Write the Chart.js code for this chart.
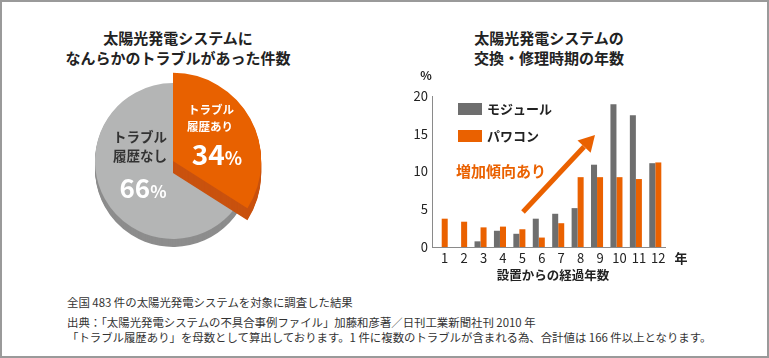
<!DOCTYPE html>
<html><head><meta charset="utf-8">
<script src="https://cdn.jsdelivr.net/npm/chart.js@4.4.0/dist/chart.umd.min.js"></script>
<style>
html,body{margin:0;padding:0;background:#fff;}
#frame{position:relative;width:769px;height:358px;overflow:hidden;font-family:"Noto Sans CJK JP","Noto Sans",sans-serif;color:#222;background:#fff;}
#border{position:absolute;left:0;top:0;width:769px;height:358px;box-sizing:border-box;border:2px solid #9a9a9a;}
.c{position:absolute;white-space:nowrap;line-height:1;transform:translate(-50%,-50%);}
.l{position:absolute;white-space:nowrap;line-height:1;transform:translate(0,-50%);}
.title{font-size:15px;font-weight:bold;color:#222;}
.foot{font-size:11.4px;color:#333;}
canvas{position:absolute;}
</style>
</head><body>
<div id="frame">
<div id="border"></div>
<div class="c title" style="left:178px;top:37px">太陽光発電システムに</div>
<div class="c title" style="left:178px;top:57px">なんらかのトラブルがあった件数</div>
<div class="c title" style="left:549px;top:37px">太陽光発電システムの</div>
<div class="c title" style="left:549px;top:57px">交換・修理時期の年数</div>

<canvas id="pie" width="190" height="200" style="left:80px;top:62px;width:190px;height:200px"></canvas>
<div class="c" style="left:140px;top:137px;font-size:13.5px;font-weight:bold;color:#333">トラブル</div>
<div class="c" style="left:140px;top:156px;font-size:13.5px;font-weight:bold;color:#333">履歴なし</div>
<div class="c" style="left:143px;top:187px;font-size:26px;font-weight:bold;color:#fff">66<span style="font-size:17px">%</span></div>
<div class="c" style="left:211px;top:110px;font-size:11.5px;font-weight:bold;color:#fff">トラブル</div>
<div class="c" style="left:210px;top:127px;font-size:11.5px;font-weight:bold;color:#fff">履歴あり</div>
<div class="c" style="left:217px;top:153px;font-size:28px;font-weight:bold;color:#fff">34<span style="font-size:18px">%</span></div>

<canvas id="bar" width="290" height="240" style="left:400px;top:60px;width:290px;height:240px"></canvas>
<div class="c" style="left:426px;top:75px;font-size:12px;font-weight:bold;color:#222">%</div>
<div class="c" style="left:681px;top:257px;font-size:13px;font-weight:bold;color:#222">年</div>
<div class="c" style="left:553px;top:275px;font-size:12.5px;font-weight:bold;color:#222">設置からの経過年数</div>
<div class="c" style="left:501px;top:170px;font-size:15px;font-weight:bold;color:#ea6100">増加傾向あり</div>

<div class="l foot" style="left:67px;top:303px">全国 483 件の太陽光発電システムを対象に調査した結果</div>
<div class="l foot" style="left:67px;top:323px">出典：「太陽光発電システムの不具合事例ファイル」加藤和彦著／日刊工業新聞社刊 2010 年</div>
<div class="l foot" style="left:67px;top:338px">「トラブル履歴あり」を母数として算出しております。1 件に複数のトラブルが含まれる為、合計値は 166 件以上となります。</div>
</div>
<script>
const FONT = '"Noto Sans CJK JP","Noto Sans",sans-serif';

// Pie data
const pieLabels = ['トラブル履歴あり', 'トラブル履歴なし'];
const pieValues = [34, 66];

// Bar data
const years = ['1','2','3','4','5','6','7','8','9','10','11','12'];
const seriesNames = ['モジュール', 'パワコン'];
const moduleValues = [0, 0, 0.75, 2.15, 1.75, 3.75, 4.4, 5.15, 10.9, 18.9, 17.45, 11.1];
const pawaconValues = [3.75, 3.35, 2.6, 2.7, 2.35, 1.25, 3.15, 9.25, 9.25, 9.25, 9.0, 11.2];
const yTicks = [0, 5, 10, 15, 20];

const pieTop = ['#e86100', '#b4b5b5'];
const pieSide = ['#c9520f', '#8d8d8d'];
const pieDepth = [12, 8];
const pieScale = [1.13, 1];

const pie3d = {
  id: 'pie3d',
  beforeDatasetsDraw(chart) {
    const meta = chart.getDatasetMeta(0);
    const ctx = chart.ctx;
    const order = [1, 0];
    order.forEach(i => {
      const el = meta.data[i];
      const baseR = el.outerRadius;
      const baseY = el.y;
      const orig = el.options;
      el.outerRadius = baseR * pieScale[i];
      el.options = Object.assign({}, orig, {backgroundColor: pieSide[i], borderWidth: 0});
      for (let d = pieDepth[i]; d >= 1; d--) {
        el.y = baseY + d;
        el.draw(ctx);
      }
      el.y = baseY;
      el.options = Object.assign({}, orig, {backgroundColor: pieTop[i], borderWidth: 0});
      el.draw(ctx);
      el.options = orig;
      el.outerRadius = baseR;
    });
    return false;
  }
};

new Chart(document.getElementById('pie'), {
  type: 'pie',
  data: { labels: pieLabels, datasets: [{ data: pieValues, backgroundColor: pieTop, borderWidth: 0 }] },
  options: {
    responsive: false, animation: false,
    layout: { padding: { left: 15, top: 21, right: 19, bottom: 23 } },
    plugins: { legend: { display: false }, tooltip: { enabled: false } }
  },
  plugins: [pie3d]
});

const barExtras = {
  id: 'barExtras',
  afterDraw(chart) {
    const ctx = chart.ctx;
    ctx.save();
    // legend
    const items = chart.data.datasets;
    const ly = [43, 70];
    items.forEach((ds, i) => {
      ctx.fillStyle = ds.backgroundColor;
      ctx.fillRect(58, ly[i], 24, 12);
      ctx.fillStyle = '#222';
      ctx.font = 'bold 13px ' + FONT;
      ctx.textBaseline = 'middle';
      ctx.fillText(ds.label, 87, ly[i] + 6.5);
    });
    // arrow
    const x1 = 123, y1 = 152, x2 = 195, y2 = 75;
    const ang = Math.atan2(y2 - y1, x2 - x1);
    const head = 16, hw = 9;
    const bx = x2 - head * Math.cos(ang), by = y2 - head * Math.sin(ang);
    ctx.strokeStyle = '#ea6100';
    ctx.lineWidth = 5;
    ctx.beginPath(); ctx.moveTo(x1, y1); ctx.lineTo(bx, by); ctx.stroke();
    ctx.fillStyle = '#ea6100';
    ctx.beginPath();
    ctx.moveTo(x2, y2);
    ctx.lineTo(bx + hw * Math.sin(ang), by - hw * Math.cos(ang));
    ctx.lineTo(bx - hw * Math.sin(ang), by + hw * Math.cos(ang));
    ctx.closePath(); ctx.fill();
    ctx.restore();
  }
};

new Chart(document.getElementById('bar'), {
  type: 'bar',
  data: {
    labels: years,
    datasets: [
      { label: seriesNames[0], data: moduleValues, backgroundColor: '#6e6e6e', categoryPercentage: 0.62, barPercentage: 1 },
      { label: seriesNames[1], data: pawaconValues, backgroundColor: '#ea6100', categoryPercentage: 0.62, barPercentage: 1 }
    ]
  },
  options: {
    responsive: false, animation: false,
    layout: { padding: { left: 0, top: 36, right: 25, bottom: 33 } },
    plugins: { legend: { display: false }, tooltip: { enabled: false } },
    scales: {
      x: {
        grid: { display: false, drawTicks: false },
        border: { display: true, color: '#8a8a8a', width: 1 },
        ticks: { color: '#222', font: { size: 13, family: FONT }, padding: 3, labelOffset: 3, maxRotation: 0, autoSkip: false },
        afterFit(s) { s.height = 20; }
      },
      y: {
        min: 0, max: 20,
        afterBuildTicks(s) { s.ticks = yTicks.map(v => ({ value: v })); },
        grid: { display: false, drawTicks: false },
        border: { display: true, color: '#8a8a8a', width: 1 },
        ticks: { color: '#222', font: { size: 13, family: FONT }, padding: 4 },
        afterFit(s) { s.width = 32; }
      }
    }
  },
  plugins: [barExtras]
});
</script>
</body></html>
